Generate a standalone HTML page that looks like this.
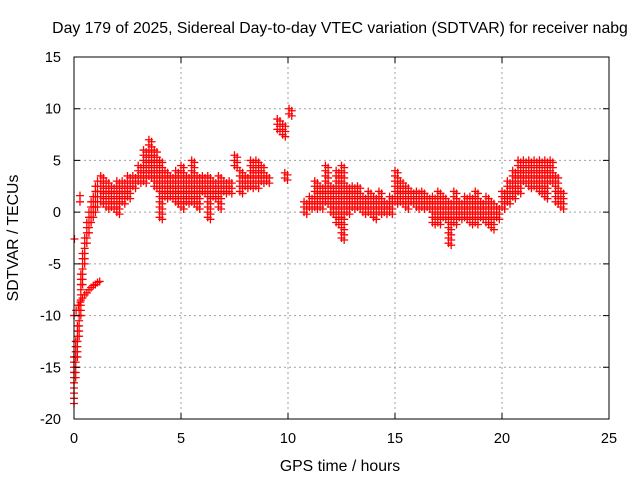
<!DOCTYPE html>
<html><head><meta charset="utf-8"><style>
body{margin:0;background:#fff}
svg{display:block;font-family:"Liberation Sans",sans-serif}
</style></head><body>
<svg id="chart" width="640" height="480">
<rect width="640" height="480" fill="#fff"/>
<text x="340" y="33" font-size="15.8" text-anchor="middle">Day 179 of 2025, Sidereal Day-to-day VTEC variation (SDTVAR) for receiver nabg</text>
<g id="grid"></g>
<g id="marks"></g>
<rect x="74" y="57" width="535" height="362" fill="none" stroke="#000" stroke-width="1"/>
<g id="ticks"></g>
<text x="340" y="471" font-size="15.8" text-anchor="middle">GPS time / hours</text>
<text x="18" y="238" font-size="15.8" text-anchor="middle" transform="rotate(-90 18 238)">SDTVAR / TECUs</text>
</svg>
<script>
const xTicks=[0,5,10,15,20,25];
const yTicks=[15,10,5,0,-5,-10,-15,-20];
const times=[0,0.08,0.16,0.24,0.32,0.4,0.5,0.6,0.7,0.8,0.9,1,1.1,1.25,1.5,1.75,2,2.25,2.5,2.75,3,3.25,3.5,3.75,4,4.25,4.5,4.75,5,5.25,5.5,5.75,6,6.25,6.5,6.75,7,7.25,7.5,7.75,8,8.25,8.5,8.75,9,9.5,9.75,9.85,10.05,10.75,11,11.25,11.5,11.75,12,12.25,12.5,12.75,13,13.25,13.5,13.75,14,14.25,14.5,14.75,15,15.25,15.5,15.75,16,16.25,16.5,16.75,17,17.25,17.5,17.75,18,18.25,18.5,18.75,19,19.25,19.5,19.75,20,20.25,20.5,20.75,21,21.25,21.5,21.75,22,22.25,22.5,22.75,
0,0.1,0.2,0.3,0.4,0.5,0.6,0.7,0.8,0.9,1,1.1,1.2,0.02,0.28,0.28];
const lowVals=[-18.5,-16,-14,-12,-10,-7,-5,-3,-2,-1,-0.5,0,0.5,1,0.5,0.5,0,1,1.5,2.5,3,3,3.5,2.5,-0.5,1.5,1.5,1,0.5,1,1,0.5,2,-0.5,1.5,0.5,2,2,4.5,2,2.5,2.5,2.5,3,3,8,7.5,3.3,9.5,0,0.5,0.5,0.5,1,0,-1,-2.5,0,0.5,0.5,0,0,-0.5,0,0,0,1,1,0.5,1,0.5,0.5,0.5,-1,-1,-0.5,-3,-1,-0.5,-0.5,-1,-1,-0.5,-1,-1.5,-0.5,0.5,1,1.5,2,3,2.5,2.5,2,1.5,3,1,0.5,
-10,-9.5,-9,-8.7,-8.3,-8,-7.8,-7.5,-7.3,-7.1,-7,-6.8,-6.7,-2.6,1.6,1];
const highVals=[-14,-12.5,-11,-9,-6,-4,-2.5,-1,0,1,1.5,2.5,3,3.5,3,2.5,3,3,3.5,3.5,4.5,6,7,6,5,4,3.5,4,4.5,3.5,5,3.5,3.5,3.5,3,3.5,3,3,5.5,4,3.5,5,5,4.5,3.5,9,8.5,4,10,1,1.5,3,2.5,4.5,2.5,4,4.5,2.5,2.5,2.5,1.5,2,1.5,2,1,1.5,4,3,2.5,2,2,2,1.5,1.5,2,1.5,1,2,1,1.5,1.5,2,1,1.5,1,0.5,2,3,4,5,5,5,5,5,5,5,3.5,2,
-10,-9.5,-9,-8.7,-8.3,-8,-7.8,-7.5,-7.3,-7.1,-7,-6.8,-6.7,-2.6,1.6,1];
const xs=t=>74+t*535/25;
const ys=v=>57+(15-v)*362/35;
const NS="http://www.w3.org/2000/svg";
const grid=document.getElementById('grid'),ticks=document.getElementById('ticks'),marks=document.getElementById('marks');
xTicks.forEach(t=>{
 const x=xs(t);
 if(t>0&&t<25){const g=document.createElementNS(NS,'line');
 g.setAttribute('x1',x);g.setAttribute('x2',x);g.setAttribute('y1',57);g.setAttribute('y2',419);
 g.setAttribute('stroke','#a0a0a0');g.setAttribute('stroke-dasharray','2,3');
 
 
 grid.appendChild(g);}
 const tk=document.createElementNS(NS,'path');
 tk.setAttribute('d',`M${x} 419v-6M${x} 57v6`);tk.setAttribute('stroke','#000');
 
 
 ticks.appendChild(tk);
 const l=document.createElementNS(NS,'text');
 l.setAttribute('x',x);l.setAttribute('y',443);l.setAttribute('font-size','14.5');l.setAttribute('text-anchor','middle');
 l.textContent=t;
 
 
 ticks.appendChild(l);
});
yTicks.forEach(v=>{
 const y=ys(v);
 if(v<15&&v>-20){const g=document.createElementNS(NS,'line');
 g.setAttribute('x1',74);g.setAttribute('x2',609);g.setAttribute('y1',y);g.setAttribute('y2',y);
 g.setAttribute('stroke','#a0a0a0');g.setAttribute('stroke-dasharray','2,3');
 
 
 grid.appendChild(g);}
 const tk=document.createElementNS(NS,'path');
 tk.setAttribute('d',`M74 ${y}h6M609 ${y}h-6`);tk.setAttribute('stroke','#000');
 
 
 ticks.appendChild(tk);
 const l=document.createElementNS(NS,'text');
 l.setAttribute('x',61);l.setAttribute('y',y+5);l.setAttribute('font-size','14.5');l.setAttribute('text-anchor','end');
 l.textContent=v;
 
 
 ticks.appendChild(l);
});
times.forEach((t,i)=>{
 let d='';const x=xs(t);
 for(let v=lowVals[i];v<=highVals[i]+0.001;v+=0.5){
  const y=ys(v);
  d+=`M${x-4} ${y}h8M${x} ${y-4}v8`;
  if(t>1.2){const x2=xs(t+0.125);d+=`M${x2-4} ${y+2}h8M${x2} ${y-2}v8`;}
 }
 const p=document.createElementNS(NS,'path');
 p.setAttribute('d',d);p.setAttribute('stroke','#ff0000');p.setAttribute('stroke-width','1.3');p.setAttribute('fill','none');
 
 
 marks.appendChild(p);
});
</script>
</body></html>
